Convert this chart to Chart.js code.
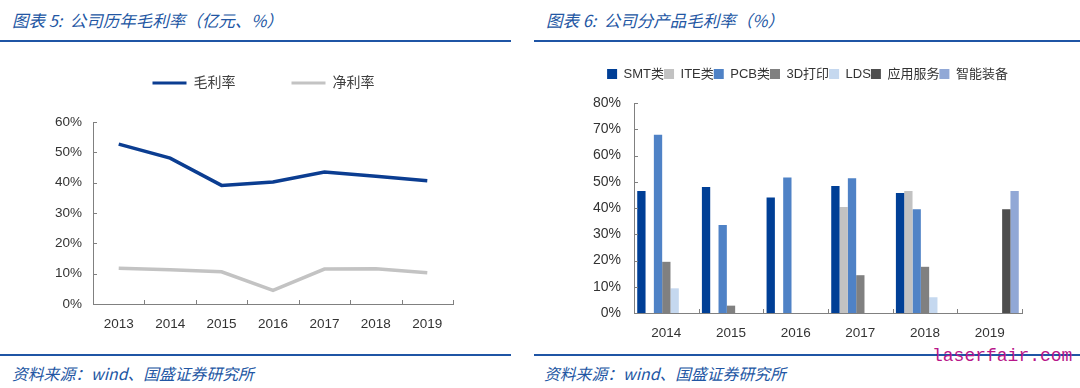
<!DOCTYPE html>
<html>
<head>
<meta charset="utf-8">
<script src="https://cdn.jsdelivr.net/npm/chart.js@4.4.0/dist/chart.umd.min.js"></script>
<style>
  body { margin:0; width:1080px; height:388px; background:#fff; position:relative; overflow:hidden;
         font-family:"Liberation Sans","Noto Sans CJK SC",sans-serif; }
  .title { position:absolute; top:8px; font-size:16.5px; font-style:italic; color:#2256a3;
           font-family:"Noto Sans CJK SC",sans-serif; white-space:nowrap; }
  .rule { position:absolute; height:2px; background:#1f55a5; }
  .src { position:absolute; top:362px; font-size:15.8px; font-style:italic; color:#2256a3;
         font-family:"Noto Sans CJK SC",sans-serif; white-space:nowrap; }
  .wrap { position:absolute; }
  .mark { position:absolute; left:932px; top:346px; font-size:18px; color:#b8168a;
          font-family:"Liberation Mono",monospace; }
</style>
</head>
<body>
<div class="title" style="left:12px">图表 5:&nbsp; 公司历年毛利率（亿元、%）</div>
<div class="title" style="left:546px">图表 6:&nbsp; 公司分产品毛利率（%）</div>
<div class="rule" style="left:0;top:40px;width:511px"></div>
<div class="rule" style="left:534px;top:40px;width:546px"></div>

<div class="wrap" style="left:40px;top:50px;width:440px;height:290px"><canvas id="left"></canvas></div>
<div class="wrap" style="left:560px;top:50px;width:520px;height:290px"><canvas id="right"></canvas></div>

<div class="rule" style="left:0;top:354px;width:511px"></div>
<div class="rule" style="left:534px;top:354px;width:546px"></div>
<div class="src" style="left:12px">资料来源：wind、国盛证券研究所</div>
<div class="src" style="left:544px">资料来源：wind、国盛证券研究所</div>
<div class="mark">laserfair.com</div>

<script>
// chart 5: yearly margins (%)
const years = ["2013","2014","2015","2016","2017","2018","2019"];
const grossMargin = [52.7, 48.1, 39.1, 40.2, 43.5, 42.1, 40.6];
const netMargin = [11.8, 11.3, 10.6, 4.5, 11.5, 11.6, 10.3];

// chart 6: gross margin by product (%)
const productYears = ["2014","2015","2016","2017","2018","2019"];
const smt = [46.5, 48.0, 44.0, 48.4, 45.7, null];
const ite = [null, null, null, 40.4, 46.5, null];
const pcb = [67.9, 33.5, 51.6, 51.3, 39.5, null];
const print3d = [19.5, 2.8, null, 14.4, 17.6, null];
const lds = [9.4, null, null, null, 6.0, null];
const appService = [null, null, null, null, null, 39.5];
const smartEquip = [null, null, null, null, null, 46.5];

Chart.defaults.font.family = '"Liberation Sans","Noto Sans CJK SC",sans-serif';
Chart.defaults.color = "#333";
Chart.defaults.animation = false;

const axisColor = "#808080";

// legend: fixed reserved height, then moved to where the picture has it
function legendFix(h, top, center) {
  return {
    id: "legendFix",
    beforeInit(chart) {
      const fit = chart.legend.fit;
      chart.legend.fit = function () { fit.call(this); this.height = h; };
    },
    afterLayout(chart) {
      const l = chart.legend;
      l.top = top; l.bottom = top + h;
      l.left = center - 260; l.right = center + 260;
    }
  };
}

// small tick marks pointing into the plot, like the source
const innerTicks = {
  id: "innerTicks",
  afterDraw(chart) {
    const { ctx, chartArea: a, scales: { x, y } } = chart;
    ctx.save();
    ctx.strokeStyle = axisColor;
    ctx.lineWidth = 1;
    ctx.beginPath();
    y.ticks.forEach((t, i) => {
      const py = Math.round(y.getPixelForTick(i)) + 0.5;
      ctx.moveTo(a.left, py); ctx.lineTo(a.left + 4, py);
    });
    for (let i = 1; i <= x.ticks.length; i++) {
      const px = Math.round(x.getPixelForValue(i - 0.5)) + 0.5;
      ctx.moveTo(px, a.bottom); ctx.lineTo(px, a.bottom - 4);
    }
    ctx.stroke();
    ctx.restore();
  }
};

function flatLabels(chart) {
  return Chart.defaults.plugins.legend.labels.generateLabels(chart)
    .map(l => Object.assign(l, { lineWidth: 0 }));
}

new Chart(document.getElementById("left"), {
  type: "line",
  data: {
    labels: years,
    datasets: [
      { label: "毛利率", data: grossMargin, borderColor: "#0b3d91", backgroundColor: "#0b3d91",
        borderWidth: 3.5, pointRadius: 0, tension: 0 },
      { label: "净利率", data: netMargin, borderColor: "#c3c3c3", backgroundColor: "#c3c3c3",
        borderWidth: 3.5, pointRadius: 0, tension: 0 }
    ]
  },
  options: {
    responsive: true, maintainAspectRatio: false,
    layout: { padding: { left: 0, right: 27, top: 0, bottom: 0 } },
    plugins: {
      tooltip: { enabled: false },
      legend: {
        labels: { boxWidth: 34, boxHeight: 3, padding: 56, color: "#404040",
                  font: { size: 14 }, generateLabels: flatLabels }
      }
    },
    scales: {
      x: {
        offset: true,
        grid: { display: false, drawTicks: false },
        border: { color: axisColor },
        ticks: { padding: 12, font: { size: 13.5 }, color: "#333" },
        afterFit: s => { s.height = 36; }
      },
      y: {
        min: 0, max: 60,
        grid: { display: false, drawTicks: false },
        border: { color: axisColor },
        ticks: { stepSize: 10, padding: 11, font: { size: 13.5 }, color: "#333", callback: v => v + "%" },
        afterFit: s => { s.width = 53; }
      }
    }
  },
  plugins: [legendFix(72, -30, 223.5), innerTicks]
});

new Chart(document.getElementById("right"), {
  type: "bar",
  data: {
    labels: productYears,
    datasets: [
      { label: "SMT类", data: smt, backgroundColor: "#003f96" },
      { label: "ITE类", data: ite, backgroundColor: "#c2c2c2" },
      { label: "PCB类", data: pcb, backgroundColor: "#4f82c6" },
      { label: "3D打印", data: print3d, backgroundColor: "#808080" },
      { label: "LDS", data: lds, backgroundColor: "#c5d8ef" },
      { label: "应用服务", data: appService, backgroundColor: "#4d4d4d" },
      { label: "智能装备", data: smartEquip, backgroundColor: "#91a8d6" }
    ]
  },
  options: {
    responsive: true, maintainAspectRatio: false,
    layout: { padding: { left: 0, right: 58, top: 0, bottom: 0 } },
    datasets: { bar: { categoryPercentage: 0.9, barPercentage: 1 } },
    plugins: {
      tooltip: { enabled: false },
      legend: {
        labels: { boxWidth: 10, boxHeight: 10, padding: 0, color: "#333",
                  font: { size: 13 }, generateLabels: flatLabels }
      }
    },
    scales: {
      x: {
        grid: { display: false, drawTicks: false },
        border: { color: axisColor },
        ticks: { padding: 12, font: { size: 13.5 }, color: "#333" },
        afterFit: s => { s.height = 27; }
      },
      y: {
        min: 0, max: 80,
        grid: { display: false, drawTicks: false },
        border: { color: axisColor },
        ticks: { stepSize: 10, padding: 13, font: { size: 14 }, color: "#333", callback: v => v + "%" },
        afterFit: s => { s.width = 74; }
      }
    }
  },
  plugins: [legendFix(53, 17.5, 247.5), innerTicks]
});
</script>
</body>
</html>
